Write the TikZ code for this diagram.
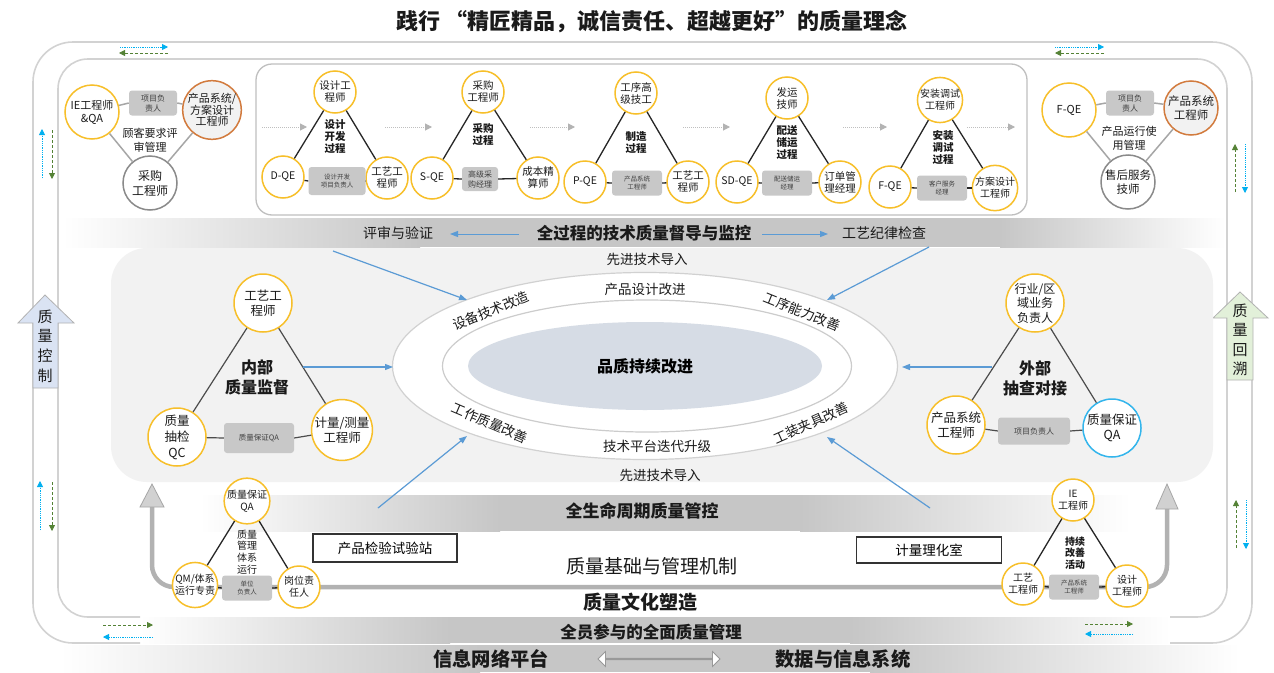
\documentclass[tikz,border=0pt]{standalone}
\usepackage{fontspec}
\setmainfont{Noto Sans CJK SC}
\usetikzlibrary{arrows.meta,shapes.geometric,shapes.arrows}
\definecolor{ycol}{HTML}{F7BF2A}
\definecolor{ocol}{HTML}{D27B3E}
\definecolor{gcol}{HTML}{8A8A8A}
\definecolor{bcol}{HTML}{33B5EC}
\definecolor{boxg}{HTML}{C8C8C8}
\definecolor{lgray}{HTML}{F2F2F2}
\definecolor{trackg}{HTML}{D2D2D2}
\definecolor{arrb}{HTML}{5B9BD5}
\definecolor{ellf}{HTML}{D6DCE5}
\definecolor{qcf}{HTML}{DAE3F3}
\definecolor{qbf}{HTML}{E2F0D9}
\definecolor{dgreen}{HTML}{548235}
\definecolor{dblue}{HTML}{00B0F0}
\definecolor{bandg}{HTML}{C6C6C6}
\definecolor{txtc}{HTML}{1A1A1A}
\definecolor{tipg}{HTML}{B3B3B3}
\newcommand{\fs}[2]{\fontsize{#1}{#2}\selectfont}
\newcommand{\myband}[7]{%
  \shade[left color=white,right color=#7] (#1,#5) rectangle (#2,#6);
  \fill[#7] (#2-0.6,#5) rectangle (#3+0.6,#6);
  \shade[left color=#7,right color=white] (#3,#5) rectangle (#4,#6);}
\begin{document}
\begin{tikzpicture}[x=1pt,y=-1pt,
  circ/.style={circle, line width=1.5pt, fill=white, inner sep=0pt, align=center, text=txtc},
  yc/.style={circ, draw=ycol},
  r21/.style={minimum size=42pt},
  r27/.style={minimum size=54pt},
  r29/.style={minimum size=58pt},
  gbox/.style={fill=boxg, rounded corners=3pt, inner sep=0pt, align=center, text=black!75},
  lbl/.style={inner sep=0pt, align=center, text=txtc},
  tline/.style={draw=black!85, line width=1.3pt},
  gline/.style={draw=black!35, line width=1.5pt},
  bline/.style={draw=black!70, line width=1.2pt},
  barrow/.style={draw=arrb, line width=1.2pt, -{Triangle[length=8pt,width=6pt]}},
  darrow/.style={draw=black!25, line width=1pt, densely dotted, -{Triangle[length=7pt,width=7pt,color=tipg]}},
  gdash/.style={draw=dgreen, line width=0.8pt, densely dashed, -{Triangle[length=6pt,width=6pt]}},
  bdot/.style={draw=dblue, line width=0.8pt, densely dotted, -{Triangle[length=6pt,width=6pt]}},
  framebox/.style={draw=black!80, line width=1.5pt, fill=white, inner sep=0pt},
]
\useasboundingbox (0,0) rectangle (1274,672);
\fill[white] (0,0) rectangle (1274,672);

% title
\node[lbl, font=\bfseries\fs{22}{25}] (title) at (652,22) {践行 “精匠精品，诚信责任、超越更好”的质量理念};

% bands
\myband{62}{420}{1000}{1225}{218}{247}{bandg}
\myband{200}{500}{800}{1130}{495}{531}{bandg}
\myband{140}{450}{850}{1170}{617}{643}{bandg}
\myband{60}{480}{870}{1240}{645}{672}{bandg}

% track
\draw[trackg, line width=1.6pt, rounded corners=40pt] (140,643) -- (33,643) -- (33,42) -- (1252,42) -- (1252,643) -- (1170,643);
\draw[trackg, line width=1.6pt, rounded corners=30pt] (140,617) -- (58,617) -- (58,59) -- (1227,59) -- (1227,617) -- (1170,617);

% small dashed arrows on the track
\coordinate (t1a) at (120,47); \coordinate (t1b) at (168,47);
\coordinate (t1c) at (168,53); \coordinate (t1d) at (119,53);
\draw[bdot] (t1a) -- (t1b); \draw[gdash] (t1c) -- (t1d);
\coordinate (t2a) at (1055,47); \coordinate (t2b) at (1104,47);
\coordinate (t2c) at (1104,53); \coordinate (t2d) at (1055,53);
\draw[bdot] (t2a) -- (t2b); \draw[gdash] (t2c) -- (t2d);
\coordinate (l1a) at (42,178); \coordinate (l1b) at (42,129);
\coordinate (l1c) at (52,130); \coordinate (l1d) at (52,179);
\draw[bdot] (l1a) -- (l1b); \draw[gdash] (l1c) -- (l1d);
\coordinate (l2a) at (40,530); \coordinate (l2b) at (40,481);
\coordinate (l2c) at (52,482); \coordinate (l2d) at (52,531);
\draw[bdot] (l2a) -- (l2b); \draw[gdash] (l2c) -- (l2d);
\coordinate (r1a) at (1235,192); \coordinate (r1b) at (1235,144);
\coordinate (r1c) at (1245,144); \coordinate (r1d) at (1245,193);
\draw[gdash] (r1a) -- (r1b); \draw[bdot] (r1c) -- (r1d);
\coordinate (r2a) at (1236,548); \coordinate (r2b) at (1236,500);
\coordinate (r2c) at (1246,500); \coordinate (r2d) at (1246,549);
\draw[gdash] (r2a) -- (r2b); \draw[bdot] (r2c) -- (r2d);
\coordinate (b1a) at (103,625); \coordinate (b1b) at (153,625);
\coordinate (b1c) at (153,637); \coordinate (b1d) at (103,637);
\draw[gdash] (b1a) -- (b1b); \draw[bdot] (b1c) -- (b1d);
\coordinate (b2a) at (1085,624); \coordinate (b2b) at (1133,624);
\coordinate (b2c) at (1133,634); \coordinate (b2d) at (1085,634);
\draw[gdash] (b2a) -- (b2b); \draw[bdot] (b2c) -- (b2d);

% side arrows
\draw[fill=qcf, draw=black!30, line width=0.8pt] (45,295) -- (74,323) -- (58,323) -- (58,388) -- (33,388) -- (33,323) -- (18,323) -- cycle;
\node[lbl, font=\fs{15}{19.7}] (qctrl) at (45,346) {质\\量\\控\\制};
\draw[fill=qbf, draw=black!30, line width=0.8pt] (1240,292) -- (1268,318) -- (1253,318) -- (1253,380) -- (1227,380) -- (1227,318) -- (1213,318) -- cycle;
\node[lbl, font=\fs{15}{19.5}] (qback) at (1240,340) {质\\量\\回\\溯};

% ---------- top-left group
\node[yc, r27, font=\fs{11}{13}] (tlA) at (92,112) {IE工程师\\\&QA};
\node[circ, r27, draw=ocol, fill=lgray, font=\fs{11}{11.5}] (tlB) at (212,110) {产品系统/\\方案设计\\工程师};
\node[circ, r27, draw=gcol, font=\fs{12}{15}] (tlC) at (150,183) {采购\\工程师};
\node[gbox, minimum width=48pt, minimum height=25pt, font=\fs{8}{10}] (tlBox) at (153,103) {项目负\\责人};
\node[lbl, font=\fs{11}{14}] (tlT) at (150,140) {顾客要求评\\审管理};
\draw[gline] (tlA) -- (tlBox.west);
\draw[gline] (tlBox.east) -- (tlB);
\draw[gline] (tlA) -- (tlC);
\draw[gline] (tlB) -- (tlC);

% ---------- top-right group
\node[yc, r27, font=\fs{11}{13}] (trA) at (1069,110) {F-QE};
\node[circ, r27, draw=ocol, fill=lgray, font=\fs{11.5}{14}] (trB) at (1191,108) {产品系统\\工程师};
\node[circ, r27, draw=gcol, font=\fs{11.5}{14}] (trC) at (1128,182) {售后服务\\技师};
\node[gbox, minimum width=48pt, minimum height=25pt, font=\fs{8}{10}] (trBox) at (1130,103) {项目负\\责人};
\node[lbl, font=\fs{11}{14}] (trT) at (1129,138) {产品运行使\\用管理};
\draw[gline] (trA) -- (trBox.west);
\draw[gline] (trBox.east) -- (trB);
\draw[gline] (trA) -- (trC);
\draw[gline] (trB) -- (trC);

% ---------- process box
\draw[draw=black!25, line width=1.3pt, rounded corners=16pt] (256,64) rectangle (1027,215);

\coordinate (d1s) at (262,127); \coordinate (d1e) at (307,127);
\coordinate (d2s) at (385,127); \coordinate (d2e) at (432,127);
\coordinate (d3s) at (530,127); \coordinate (d3e) at (575,127);
\coordinate (d4s) at (683,127); \coordinate (d4e) at (730,127);
\coordinate (d5s) at (843,127); \coordinate (d5e) at (887,127);
\coordinate (d6s) at (967,127); \coordinate (d6e) at (1015,127);
\foreach \i in {1,...,6} {\draw[darrow] (d\i s) -- (d\i e);}

% module 1
\node[yc, r21, font=\fs{10.5}{12}] (m1t) at (335,92) {设计工\\程师};
\node[yc, r21, font=\fs{10.5}{12}] (m1l) at (283,177) {D-QE};
\node[yc, r21, font=\fs{10.5}{12}] (m1r) at (387,178) {工艺工\\程师};
\node[gbox, minimum width=57pt, minimum height=28pt, font=\fs{6.5}{8.5}] (m1b) at (337,181) {设计开发\\项目负责人};
\node[lbl, font=\bfseries\fs{10.5}{12}] (m1x) at (335,137) {设计\\开发\\过程};
% module 2
\node[yc, r21, font=\fs{10.5}{12}] (m2t) at (483,92) {采购\\工程师};
\node[yc, r21, font=\fs{10.5}{12}] (m2l) at (432,178) {S-QE};
\node[yc, r21, font=\fs{10.5}{12}] (m2r) at (538,178) {成本精\\算师};
\node[gbox, minimum width=36pt, minimum height=24pt, font=\fs{8}{10}] (m2b) at (480,179) {高级采\\购经理};
\node[lbl, font=\bfseries\fs{10.5}{12}] (m2x) at (483,135) {采购\\过程};
% module 3
\node[yc, r21, font=\fs{10.5}{12}] (m3t) at (636,93) {工序高\\级技工};
\node[yc, r21, font=\fs{10.5}{12}] (m3l) at (585,182) {P-QE};
\node[yc, r21, font=\fs{10.5}{12}] (m3r) at (688,182) {工艺工\\程师};
\node[gbox, minimum width=50pt, minimum height=25pt, font=\fs{6.5}{8.5}] (m3b) at (637,183) {产品系统\\工程师};
\node[lbl, font=\bfseries\fs{10.5}{12}] (m3x) at (636,143) {制造\\过程};
% module 4
\node[yc, r21, font=\fs{10.5}{12}] (m4t) at (787,98) {发运\\技师};
\node[yc, r21, font=\fs{10.5}{12}] (m4l) at (737,182) {SD-QE};
\node[yc, r21, font=\fs{10.5}{12}] (m4r) at (840,182) {订单管\\理经理};
\node[gbox, minimum width=50pt, minimum height=25pt, font=\fs{6.5}{8.5}] (m4b) at (787,183) {配送储运\\经理};
\node[lbl, font=\bfseries\fs{10.5}{12}] (m4x) at (787,143) {配送\\储运\\过程};
% module 5
\node[yc, r21, font=\fs{10}{12}] (m5t) at (940,100) {安装调试\\工程师};
\node[yc, r21, font=\fs{10.5}{12}] (m5l) at (890,187) {F-QE};
\node[yc, r21, font=\fs{10}{12}] (m5r) at (995,188) {方案设计\\工程师};
\node[gbox, minimum width=50pt, minimum height=25pt, font=\fs{6.5}{8.5}] (m5b) at (942,188) {客户服务\\经理};
\node[lbl, font=\bfseries\fs{10.5}{12}] (m5x) at (943,147) {安装\\调试\\过程};
\foreach \i in {1,...,5} {
  \draw[tline] (m\i t) -- (m\i l);
  \draw[tline] (m\i t) -- (m\i r);
  \draw[tline] (m\i l) -- (m\i b.west);
  \draw[tline] (m\i b.east) -- (m\i r);
}

% ---------- supervision band texts
\node[lbl, font=\bfseries\fs{16.5}{18}] (supv) at (644,233) {全过程的技术质量督导与监控};
\node[lbl, font=\fs{14}{16}] (review) at (398,233) {评审与验证};
\node[lbl, font=\fs{14}{16}] (disc) at (884,233) {工艺纪律检查};
\coordinate (sv1) at (519,234); \coordinate (sv2) at (450,234);
\coordinate (sv3) at (762,234); \coordinate (sv4) at (828,234);
\draw[barrow, line width=1pt] (sv1) -- (sv2);
\draw[barrow, line width=1pt] (sv3) -- (sv4);

% ---------- central region
\fill[lgray, rounded corners=36pt] (111,248) rectangle (1213,482);
\node[ellipse, draw=black!18, line width=1.2pt, fill=white, minimum width=505pt, minimum height=187pt, inner sep=0pt] (ring1) at (645,366) {};
\node[ellipse, draw=black!20, line width=1.2pt, fill=white, minimum width=409pt, minimum height=132pt, inner sep=0pt] (ring2) at (647,366) {};
\node[ellipse, fill=ellf, minimum width=354pt, minimum height=88pt, inner sep=0pt, font=\bfseries\fs{16}{18}] (core) at (645,366) {品质持续改进};

\node[lbl, font=\fs{13.5}{15}] (adv1) at (647,259) {先进技术导入};
\node[lbl, font=\fs{13.5}{15}] (adv2) at (660,475) {先进技术导入};
\node[lbl, font=\fs{13.5}{15}] (imp1) at (645,289) {产品设计改进};
\node[lbl, font=\fs{13.5}{15}] (imp2) at (657,446) {技术平台迭代升级};
\node[lbl, font=\fs{13.5}{15}, rotate=22] (imp3) at (491,311) {设备技术改造};
\node[lbl, font=\fs{13.5}{15}, rotate=-22] (imp4) at (802,312) {工序能力改善};
\node[lbl, font=\fs{13.5}{15}, rotate=-23] (imp5) at (490,423) {工作质量改善};
\node[lbl, font=\fs{13.5}{15}, rotate=24] (imp6) at (811,423) {工装夹具改善};

% left big triangle
\node[yc, r29, font=\fs{12.5}{15}] (LA) at (263,303) {工艺工\\程师};
\node[yc, r29, font=\fs{12.5}{16}] (LB) at (177,437) {质量\\抽检\\QC};
\node[yc, r29, font=\fs{12.5}{15}] (LC) at (342,430) {计量/测量\\工程师};
\node[gbox, minimum width=70pt, minimum height=30pt, font=\fs{7.5}{9}] (LBox) at (259,438) {质量保证QA};
\node[lbl, font=\bfseries\fs{16}{20}] (LT) at (257,377) {内部\\质量监督};
\draw[bline] (LA) -- (LB); \draw[bline] (LA) -- (LC);
\draw[bline] (LB) -- (LBox.west); \draw[bline] (LBox.east) -- (LC);

% right big triangle
\node[yc, r29, font=\fs{12}{14.5}] (RA) at (1035,303) {行业/区\\域业务\\负责人};
\node[yc, r29, font=\fs{12.5}{15}] (RB) at (956,425) {产品系统\\工程师};
\node[circ, r29, draw=bcol, font=\fs{12.5}{15}] (RC) at (1112,428) {质量保证\\QA};
\node[gbox, minimum width=72pt, minimum height=27pt, font=\fs{8}{10}] (RBox) at (1034,431) {项目负责人};
\node[lbl, font=\bfseries\fs{16}{20}] (RT) at (1035,378) {外部\\抽查对接};
\draw[bline] (RA) -- (RB); \draw[bline] (RA) -- (RC);
\draw[bline] (RB) -- (RBox.west); \draw[bline] (RBox.east) -- (RC);

% blue arrows
\coordinate (ba1) at (333,251); \coordinate (ba1e) at (467,300);
\coordinate (ba2) at (929,247); \coordinate (ba2e) at (827,300);
\coordinate (ba3) at (303,367); \coordinate (ba3e) at (393,367);
\coordinate (ba4) at (992,367); \coordinate (ba4e) at (902,367);
\coordinate (ba5) at (378,508); \coordinate (ba5e) at (467,436);
\coordinate (ba6) at (930,508); \coordinate (ba6e) at (827,437);
\foreach \i in {1,...,6} {\draw[barrow] (ba\i) -- (ba\i e);}

% ---------- lifecycle band and loop
\node[lbl, font=\bfseries\fs{17}{19}] (life) at (642,511) {全生命周期质量管控};
\coordinate (lpA) at (152,507); \coordinate (lpB) at (152,587);
\coordinate (lpC) at (1167,587); \coordinate (lpD) at (1167,509);
\draw[draw=black!30, line width=4.5pt, rounded corners=22pt] (lpA) -- (lpB) -- (lpC) -- (lpD);
\draw[fill=black!18, draw=black!35, line width=0.8pt] (152,484) -- (164,507) -- (140,507) -- cycle;
\draw[fill=black!18, draw=black!35, line width=0.8pt] (1167,484) -- (1178,509) -- (1156,509) -- cycle;

% bottom-left triangle
\node[yc, r21, font=\fs{10}{12}] (BLA) at (247,501) {质量保证\\QA};
\node[yc, r21, font=\fs{10}{12}] (BLB) at (195,585) {QM/体系\\运行专责};
\node[yc, r21, font=\fs{10}{12}] (BLC) at (299,587) {岗位责\\任人};
\node[gbox, minimum width=50pt, minimum height=25pt, font=\fs{6.5}{8.5}] (BLBox) at (247,588) {单位\\负责人};
\node[lbl, font=\fs{10}{11.7}] (BLT) at (247,552) {质量\\管理\\体系\\运行};
\draw[tline] (BLA) -- (BLB); \draw[tline] (BLA) -- (BLC);
\draw[tline] (BLB) -- (BLBox.west); \draw[tline] (BLBox.east) -- (BLC);

% bottom-right triangle
\node[yc, r21, font=\fs{10}{12}] (BRA) at (1073,500) {IE\\工程师};
\node[yc, r21, font=\fs{10}{12}] (BRB) at (1023,584) {工艺\\工程师};
\node[yc, r21, font=\fs{10}{12}] (BRC) at (1127,586) {设计\\工程师};
\node[gbox, minimum width=50pt, minimum height=25pt, font=\fs{6.5}{8.5}] (BRBox) at (1074,587) {产品系统\\工程师};
\node[lbl, font=\bfseries\fs{10}{11.7}] (BRT) at (1075,553) {持续\\改善\\活动};
\draw[tline] (BRA) -- (BRB); \draw[tline] (BRA) -- (BRC);
\draw[tline] (BRB) -- (BRBox.west); \draw[tline] (BRBox.east) -- (BRC);

% framed boxes
\node[framebox, minimum width=144pt, minimum height=28pt, font=\fs{13.5}{15}] (insp) at (385,548) {产品检验试验站};
\node[framebox, minimum width=145pt, minimum height=26pt, font=\fs{13.5}{15}] (metro) at (929,550) {计量理化室};

% bottom texts
\node[lbl, font=\fs{19}{21}] (base) at (652,566) {质量基础与管理机制};
\node[lbl, font=\bfseries\fs{19}{21}] (cult) at (640,602) {质量文化塑造};
\node[lbl, font=\bfseries\fs{16.5}{18}] (all) at (651,632) {全员参与的全面质量管理};
\node[lbl, font=\bfseries\fs{19.3}{21}] (net) at (491,659) {信息网络平台};
\node[lbl, font=\bfseries\fs{19.3}{21}] (data) at (843,659) {数据与信息系统};
\node[double arrow, draw=black!40, fill=white, line width=0.8pt, minimum height=122pt, minimum width=15pt, double arrow head extend=4.5pt, inner sep=0pt] (dbl) at (659,659) {};
\end{tikzpicture}
\end{document}
